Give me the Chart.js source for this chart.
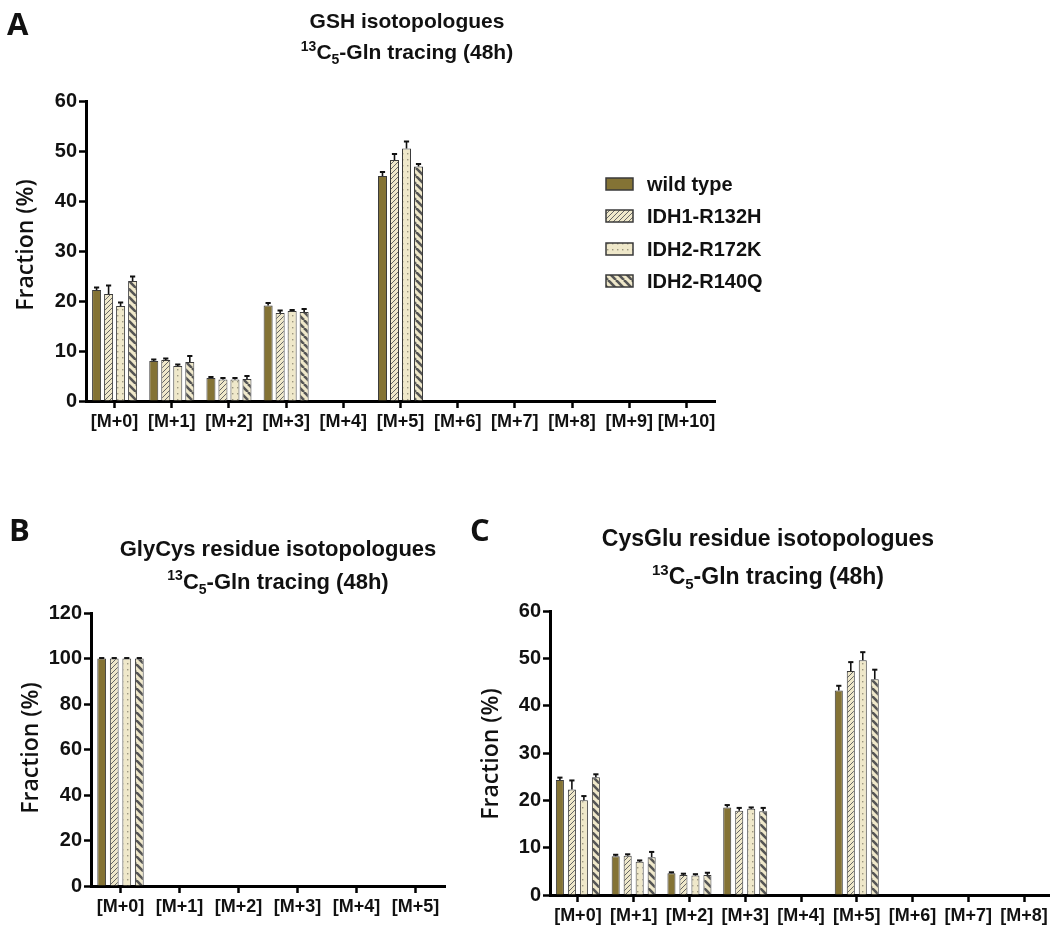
<!DOCTYPE html>
<html>
<head>
<meta charset="utf-8">
<script src="https://cdn.jsdelivr.net/npm/chart.js@4.4.1/dist/chart.umd.min.js"></script>
<style>
  html, body { margin: 0; padding: 0; background: #fff; overflow: hidden; width: 1050px; height: 926px; }
  canvas { position: absolute; left: 0; top: 0; }
</style>
</head>
<body>
<canvas id="gsh" width="1060" height="926"></canvas>
<canvas id="glycys" width="1060" height="926"></canvas>
<canvas id="cysglu" width="1060" height="926"></canvas>
<script>
// ---------- data ----------
const seriesNames = ['wild type', 'IDH1-R132H', 'IDH2-R172K', 'IDH2-R140Q'];

// A: GSH isotopologues
const isotopesA = ['[M+0]', '[M+1]', '[M+2]', '[M+3]', '[M+4]', '[M+5]', '[M+6]', '[M+7]', '[M+8]', '[M+9]', '[M+10]'];
const gshWildType    = [22.2, 8.0, 4.6, 19.1, 0, 45.0, 0, 0, 0, 0, 0];
const gshIDH1R132H   = [21.4, 8.2, 4.3, 17.6, 0, 48.2, 0, 0, 0, 0, 0];
const gshIDH2R172K   = [19.0, 7.0, 4.3, 18.0, 0, 50.5, 0, 0, 0, 0, 0];
const gshIDH2R140Q   = [24.0, 7.8, 4.4, 17.8, 0, 46.9, 0, 0, 0, 0, 0];
const gshWildTypeErr  = [0.5, 0.3, 0.2, 0.5, 0, 0.8, 0, 0, 0, 0, 0];
const gshIDH1R132HErr = [1.7, 0.3, 0.3, 0.5, 0, 1.2, 0, 0, 0, 0, 0];
const gshIDH2R172KErr = [0.7, 0.3, 0.3, 0.2, 0, 1.4, 0, 0, 0, 0, 0];
const gshIDH2R140QErr = [0.9, 1.2, 0.6, 0.6, 0, 0.5, 0, 0, 0, 0, 0];

// B: GlyCys residue isotopologues
const isotopesB = ['[M+0]', '[M+1]', '[M+2]', '[M+3]', '[M+4]', '[M+5]'];
const glyCysWildType  = [100, 0, 0, 0, 0, 0];
const glyCysIDH1R132H = [100, 0, 0, 0, 0, 0];
const glyCysIDH2R172K = [100, 0, 0, 0, 0, 0];
const glyCysIDH2R140Q = [100, 0, 0, 0, 0, 0];
const glyCysErr       = [0.2, 0, 0, 0, 0, 0];

// C: CysGlu residue isotopologues
const isotopesC = ['[M+0]', '[M+1]', '[M+2]', '[M+3]', '[M+4]', '[M+5]', '[M+6]', '[M+7]', '[M+8]'];
const cysGluWildType  = [24.3, 8.2, 4.6, 18.5, 0, 43.2, 0, 0, 0];
const cysGluIDH1R132H = [22.3, 8.3, 4.2, 17.8, 0, 47.3, 0, 0, 0];
const cysGluIDH2R172K = [20.0, 7.0, 4.1, 18.2, 0, 49.6, 0, 0, 0];
const cysGluIDH2R140Q = [24.9, 8.0, 4.2, 17.7, 0, 45.6, 0, 0, 0];
const cysGluWildTypeErr  = [0.5, 0.3, 0.2, 0.5, 0, 1.0, 0, 0, 0];
const cysGluIDH1R132HErr = [1.9, 0.3, 0.3, 0.6, 0, 1.9, 0, 0, 0];
const cysGluIDH2R172KErr = [0.9, 0.3, 0.3, 0.3, 0, 1.7, 0, 0, 0];
const cysGluIDH2R140QErr = [0.6, 1.1, 0.5, 0.7, 0, 2.0, 0, 0, 0];

// ---------- fills ----------
const OLIVE = '#847335';
const CREAM = '#efe8ca';
const EDGE = '#3a3a3a';
const SANS = "'Liberation Sans', Arial, sans-serif";

function tile(w, h, draw) {
  const c = document.createElement('canvas');
  c.width = w; c.height = h;
  const g = c.getContext('2d');
  g.fillStyle = CREAM;
  g.fillRect(0, 0, w, h);
  draw(g, w, h);
  return g.createPattern(c, 'repeat');
}

const fills = [
  OLIVE,
  // fine "///" hatch
  tile(5, 5, (g, s) => {
    g.strokeStyle = '#666'; g.lineWidth = 1;
    for (const k of [-s, 0, s]) { g.beginPath(); g.moveTo(k, s); g.lineTo(k + s, 0); g.stroke(); }
  }),
  // sparse dots
  tile(5, 6, (g) => {
    g.fillStyle = '#9c9680';
    g.fillRect(2, 3, 1.4, 1.4);
  }),
  // bold "\\\" stripes
  tile(8, 8, (g, s) => {
    g.strokeStyle = '#555'; g.lineWidth = 2.6;
    for (const k of [-s, 0, s]) { g.beginPath(); g.moveTo(k, 0); g.lineTo(k + s, s); g.stroke(); }
  })
];

function makeDatasets(values, errors, cat, bar) {
  return seriesNames.map((name, i) => ({
    label: name,
    data: values[i],
    errors: errors[i],
    backgroundColor: fills[i],
    borderColor: EDGE,
    borderWidth: 1,
    categoryPercentage: cat,
    barPercentage: bar
  }));
}

// ---------- plugins ----------
const errorBars = {
  id: 'errorBars',
  afterDatasetsDraw(chart) {
    const ctx = chart.ctx;
    const y = chart.scales.y;
    chart.data.datasets.forEach((ds, i) => {
      const meta = chart.getDatasetMeta(i);
      meta.data.forEach((bar, j) => {
        const e = ds.errors[j];
        if (!e) return;
        const top = y.getPixelForValue(ds.data[j] + e);
        ctx.save();
        ctx.strokeStyle = '#111';
        ctx.lineWidth = 1.6;
        ctx.beginPath(); ctx.moveTo(bar.x, bar.y); ctx.lineTo(bar.x, top); ctx.stroke();
        ctx.lineWidth = 2;
        ctx.beginPath(); ctx.moveTo(bar.x - 2.6, top); ctx.lineTo(bar.x + 2.6, top); ctx.stroke();
        ctx.restore();
      });
    });
  }
};

function drawRich(ctx, parts, cx, y, size) {
  const fontFor = (p) => `bold ${p.sup || p.sub ? Math.round(size * 0.65) : size}px ${SANS}`;
  let total = 0;
  parts.forEach(p => { ctx.font = fontFor(p); total += ctx.measureText(p.t).width; });
  let x = cx - total / 2;
  ctx.textAlign = 'left';
  ctx.textBaseline = 'alphabetic';
  parts.forEach(p => {
    ctx.font = fontFor(p);
    const dy = p.sup ? -size * 0.4 : (p.sub ? size * 0.22 : 0);
    ctx.fillText(p.t, x, y + dy);
    x += ctx.measureText(p.t).width;
  });
}

function decor(cfg) {
  return {
    id: 'decor',
    afterDraw(chart) {
      const ctx = chart.ctx;
      ctx.save();
      ctx.fillStyle = '#111';
      // panel letter
      ctx.font = "bold 31px 'Open Sans'";
      ctx.textAlign = 'left';
      ctx.textBaseline = 'alphabetic';
      ctx.fillText(cfg.letter, cfg.letterX, cfg.letterY);
      // two-line title
      drawRich(ctx, [{ t: cfg.title }], cfg.titleX, cfg.titleY1, cfg.titleSize);
      drawRich(ctx, [{ t: '13', sup: true }, { t: 'C' }, { t: '5', sub: true }, { t: '-Gln tracing (48h)' }],
        cfg.titleX, cfg.titleY2, cfg.titleSize);
      // y-axis title
      ctx.save();
      ctx.translate(cfg.yTitleX, cfg.yTitleY);
      ctx.rotate(-Math.PI / 2);
      ctx.font = "600 23px 'Open Sans'";
      ctx.textAlign = 'center';
      ctx.textBaseline = 'middle';
      ctx.fillText('Fraction (%)', 0, 0);
      ctx.restore();
      // legend
      if (cfg.legend) {
        const L = cfg.legend;
        chart.data.datasets.forEach((ds, i) => {
          const yc = L.rows[i];
          ctx.fillStyle = ds.backgroundColor;
          ctx.fillRect(L.x, yc - 6, 27, 12);
          ctx.strokeStyle = EDGE;
          ctx.lineWidth = 1.5;
          ctx.strokeRect(L.x, yc - 6, 27, 12);
          ctx.fillStyle = '#111';
          ctx.font = `bold 20px ${SANS}`;
          ctx.textAlign = 'left';
          ctx.textBaseline = 'middle';
          ctx.fillText(ds.label, L.x + 41, yc + 1);
        });
      }
      ctx.restore();
    }
  };
}

function makeOptions(p) {
  return {
    responsive: false,
    animation: false,
    events: [],
    layout: { padding: p.padding },
    plugins: { legend: { display: false }, title: { display: false }, tooltip: { enabled: false } },
    scales: {
      x: {
        offset: true,
        grid: { offset: false, drawOnChartArea: false, drawTicks: true, tickLength: 7, tickWidth: 2.5, tickColor: '#000' },
        border: { display: true, width: 3, color: '#000' },
        ticks: { autoSkip: false, maxRotation: 0, minRotation: 0, padding: 3, color: '#111',
                 font: { family: SANS, size: 18, weight: 'bold' } },
        afterFit(s) { s.height = p.xHeight; }
      },
      y: {
        min: 0, max: p.yMax,
        ticks: { stepSize: p.yStep, padding: 2, color: '#111',
                 font: { family: SANS, size: 20, weight: 'bold' } },
        grid: { drawOnChartArea: false, drawTicks: true, tickLength: 7, tickWidth: 2.5, tickColor: '#000' },
        border: { display: true, width: 3, color: '#000' },
        afterFit(s) { s.width = p.yWidth; }
      }
    }
  };
}

// ---------- A: GSH ----------
new Chart(document.getElementById('gsh'), {
  type: 'bar',
  data: {
    labels: isotopesA,
    datasets: makeDatasets(
      [gshWildType, gshIDH1R132H, gshIDH2R172K, gshIDH2R140Q],
      [gshWildTypeErr, gshIDH1R132HErr, gshIDH2R172KErr, gshIDH2R140QErr], 0.84, 0.75)
  },
  options: makeOptions({ padding: { left: 0, right: 345, top: 101, bottom: 485 }, xHeight: 40, yWidth: 86, yMax: 60, yStep: 10 }),
  plugins: [errorBars, decor({
    letter: 'A', letterX: 7, letterY: 35,
    title: 'GSH isotopologues', titleX: 407, titleY1: 28, titleY2: 59, titleSize: 21,
    yTitleX: 26, yTitleY: 245,
    legend: { x: 606, rows: [184, 216, 249, 281] }
  })]
});

// ---------- B: GlyCys ----------
new Chart(document.getElementById('glycys'), {
  type: 'bar',
  data: {
    labels: isotopesB,
    datasets: makeDatasets(
      [glyCysWildType, glyCysIDH1R132H, glyCysIDH2R172K, glyCysIDH2R140Q],
      [glyCysErr, glyCysErr, glyCysErr, glyCysErr], 0.85, 0.7)
  },
  options: makeOptions({ padding: { left: 0, right: 615, top: 613, bottom: 0 }, xHeight: 40, yWidth: 91, yMax: 120, yStep: 20 }),
  plugins: [errorBars, decor({
    letter: 'B', letterX: 9, letterY: 541,
    title: 'GlyCys residue isotopologues', titleX: 278, titleY1: 556, titleY2: 589, titleSize: 22,
    yTitleX: 31, yTitleY: 748
  })]
});

// ---------- C: CysGlu ----------
new Chart(document.getElementById('cysglu'), {
  type: 'bar',
  data: {
    labels: isotopesC,
    datasets: makeDatasets(
      [cysGluWildType, cysGluIDH1R132H, cysGluIDH2R172K, cysGluIDH2R140Q],
      [cysGluWildTypeErr, cysGluIDH1R132HErr, cysGluIDH2R172KErr, cysGluIDH2R140QErr], 0.86, 0.67)
  },
  options: makeOptions({ padding: { left: 460, right: 8, top: 611, bottom: 0 }, xHeight: 31, yWidth: 90, yMax: 60, yStep: 10 }),
  plugins: [errorBars, decor({
    letter: 'C', letterX: 470, letterY: 541,
    title: 'CysGlu residue isotopologues', titleX: 768, titleY1: 546, titleY2: 584, titleSize: 23,
    yTitleX: 491, yTitleY: 754
  })]
});
</script>
</body>
</html>
